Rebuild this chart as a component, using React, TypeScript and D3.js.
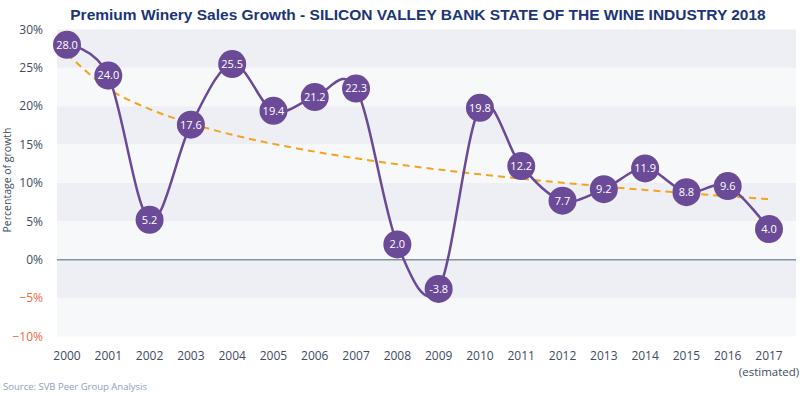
import React from "react";
import * as d3 from "d3";

const years = ["2000","2001","2002","2003","2004","2005","2006","2007","2008","2009","2010","2011","2012","2013","2014","2015","2016","2017"];
const growth = [28.0,24.0,5.2,17.6,25.5,19.4,21.2,22.3,2.0,-3.8,19.8,12.2,7.7,9.2,11.9,8.8,9.6,4.0];
const yTicks = [30,25,20,15,10,5,0,-5,-10];
const title = "Premium Winery Sales Growth - SILICON VALLEY BANK STATE OF THE WINE INDUSTRY 2018";
const yTitle = "Percentage of growth";
const source = "Source: SVB Peer Group Analysis";
const estimatedNote = "(estimated)";

const W = 800, H = 396;
const plotLeft = 57, plotRight = 796;
const font = "'Open Sans', 'Noto Sans', sans-serif";

export default function App() {
  const x = d3.scalePoint<string>().domain(years).range([67, 769]);
  const y = d3.scaleLinear().domain([-10, 30]).range([336.5, 29.5]);

  // logarithmic trendline (least squares on ln(index))
  const lx = growth.map((_, i) => Math.log(i + 1));
  const mx = d3.mean(lx) as number;
  const my = d3.mean(growth) as number;
  let sxy = 0, sxx = 0;
  lx.forEach((v, i) => { sxy += (v - mx) * (growth[i] - my); sxx += (v - mx) * (v - mx); });
  const b = sxy / sxx, a = my - b * mx;
  const trend = years.map((yr, i) => [x(yr) as number, y(a + b * Math.log(i + 1))] as [number, number]);

  const line = d3.line<number>()
    .x((_, i) => x(years[i]) as number)
    .y((d) => y(d))
    .curve(d3.curveCatmullRom.alpha(0));
  const tline = d3.line().curve(d3.curveMonotoneX);

  const bands = d3.range(yTicks.length - 1).map((k) => ({ top: yTicks[k], bottom: yTicks[k + 1], dark: k % 2 === 0 }));

  return (
    <svg width={W} height={H} style={{ position: "absolute", left: 0, top: 0, background: "#fff" }}>
      <text x={418} y={20} textAnchor="middle" fontFamily="'Liberation Sans', Arial, sans-serif" fontWeight="bold" fontSize={15.5} fill="#1b3577">{title}</text>
      {bands.map((bd, i) => (
        <rect key={i} x={plotLeft} width={plotRight - plotLeft} y={y(bd.top)} height={y(bd.bottom) - y(bd.top)} fill={bd.dark ? "#eeeff4" : "#f7f8fa"} />
      ))}
      <line x1={plotLeft} x2={plotRight} y1={y(0)} y2={y(0)} stroke="#8392a7" strokeWidth={1.5} />
      {yTicks.map((t) => (
        <text key={t} x={43} y={y(t)} dy="0.35em" textAnchor="end" fontFamily={font} fontSize={12} fill={t < 0 ? "#ea6a3f" : "#3e4c63"}>{t < 0 ? "\u2212" + Math.abs(t) + "%" : t + "%"}</text>
      ))}
      <text transform={`translate(11,180) rotate(-90)`} textAnchor="middle" fontFamily={font} fontSize={10.5} fill="#3e4c63">{yTitle}</text>
      {years.map((yr) => (
        <text key={yr} x={x(yr)} y={360} textAnchor="middle" fontFamily={font} fontSize={12} fill="#3e4c63">{yr}</text>
      ))}
      <text x={x(years[years.length - 1])} y={376} textAnchor="middle" fontFamily={font} fontSize={11.5} fill="#3e4c63">{estimatedNote}</text>
      <text x={3} y={390} fontFamily={font} fontSize={9.5} fill="#8ea0ba">{source}</text>
      <path d={tline(trend) || ""} fill="none" stroke="#f5a21c" strokeWidth={2} strokeDasharray="7,5" />
      <path d={line(growth) || ""} fill="none" stroke="#6a4a96" strokeWidth={2.5} />
      {growth.map((v, i) => (
        <g key={i} transform={`translate(${x(years[i])},${y(v)})`}>
          <circle r={14} fill="#6b4b97" />
          <text textAnchor="middle" dy="0.35em" fontFamily={font} fontSize={11} fill="#fff">{v < 0 ? "-" + Math.abs(v).toFixed(1) : v.toFixed(1)}</text>
        </g>
      ))}
    </svg>
  );
}
